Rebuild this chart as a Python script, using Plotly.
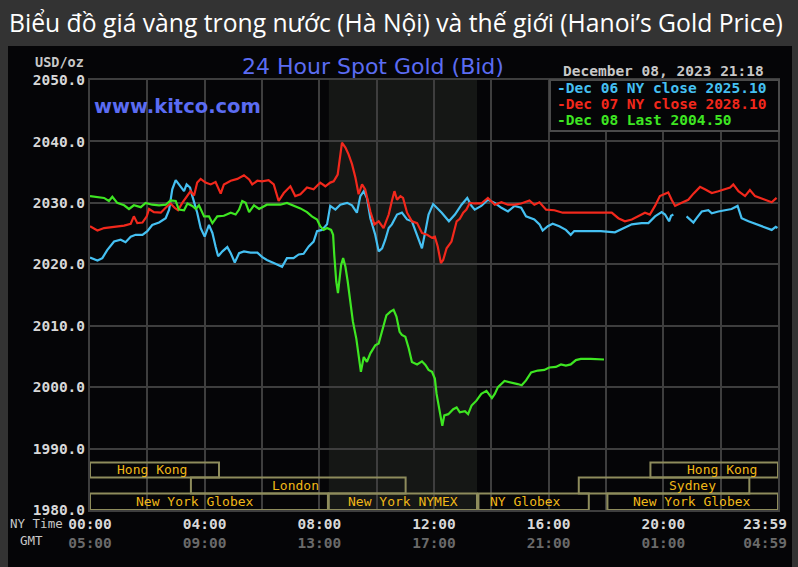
import plotly.graph_objects as go

# ---------------- DATA ----------------
# NY time in hours, prices in USD/oz
t_dec06 = [0.00, 0.26, 0.43, 0.60, 0.84, 1.07, 1.24, 1.42, 1.59, 1.83,
           2.00, 2.17, 2.41, 2.64, 2.76, 2.87, 2.99, 3.14, 3.28, 3.37,
           3.49, 3.57, 3.74, 3.86, 4.00, 4.15, 4.27, 4.38, 4.47, 4.62,
           4.79, 4.91, 5.05, 5.20, 5.37, 5.60, 5.84,
           6.00, 6.17, 6.41, 6.70, 6.87, 7.10, 7.28, 7.45, 7.63, 7.80,
           7.92, 8.09, 8.27, 8.38, 8.56, 8.73, 8.97, 9.14, 9.31, 9.43,
           9.55, 9.66, 9.78, 9.95, 10.07, 10.19, 10.30, 10.42, 10.53, 10.71,
           10.88, 11.06, 11.23, 11.41, 11.58, 11.70, 11.81, 11.97,
           12.27, 12.52, 12.73, 12.96, 13.16, 13.31, 13.42, 13.65, 13.88, 14.12,
           14.35, 14.58, 14.81, 15.04, 15.21, 15.50, 15.68, 15.79, 15.97, 16.14,
           16.37, 16.60, 16.77, 16.89, 17.35, 17.82,
           18.31, 18.66, 18.90, 19.24, 19.48, 19.71, 19.94, 20.06, 20.20, 20.27,
           20.35, 20.55, 20.81, 20.93, 21.05, 21.16, 21.34, 21.57, 21.69, 21.92,
           22.15, 22.38, 22.59, 22.73, 22.97, 23.20, 23.43, 23.66, 23.78, 23.92, 23.98]
p_dec06 = [2021.1, 2020.6, 2021.0, 2022.3, 2023.7, 2024.0, 2023.6, 2024.5, 2024.8, 2024.8,
           2025.4, 2026.4, 2026.8, 2027.5, 2028.9, 2032.2, 2033.7, 2032.7, 2031.9, 2033.0,
           2032.5, 2031.1, 2028.4, 2025.9, 2024.5, 2026.4, 2025.1, 2022.9, 2021.3, 2022.1,
           2022.8, 2021.8, 2020.3, 2021.8, 2022.1, 2021.9, 2021.9,
           2021.2, 2020.7, 2020.2, 2019.6, 2021.0, 2021.0, 2021.6, 2021.7, 2022.9, 2023.7,
           2025.4, 2025.6, 2026.5, 2029.5, 2028.9, 2029.7, 2030.0, 2029.6, 2028.4, 2031.1,
           2031.9, 2030.8, 2027.5, 2024.8, 2022.1, 2022.6, 2024.0, 2025.9, 2026.5, 2028.1,
           2028.4, 2027.3, 2027.0, 2024.6, 2022.6, 2025.4, 2028.1, 2029.8,
           2028.4, 2027.0, 2028.1, 2029.7, 2030.8, 2029.5, 2028.9, 2029.5, 2030.5, 2030.0,
           2029.2, 2028.6, 2029.5, 2029.2, 2027.8, 2027.3, 2026.5, 2025.5, 2026.2, 2026.6,
           2026.2, 2025.6, 2024.8, 2025.4, 2025.4, 2025.4,
           2025.2, 2025.9, 2026.5, 2026.7, 2026.7, 2027.8, 2028.5, 2028.1, 2027.0, 2027.9,
           2028.1, None, 2027.8, 2027.3, 2026.8, 2027.5, 2028.6, 2028.8, 2028.3, 2028.6,
           2028.8, 2029.0, 2029.5, 2027.5, 2027.0, 2026.6, 2026.3, 2025.9, 2025.6, 2026.1, 2025.9]

t_dec07 = [0.00, 0.26, 0.49, 0.84, 1.19, 1.42, 1.53, 1.65, 1.83, 1.98,
           2.06, 2.23, 2.47, 2.64, 2.81, 2.95, 3.07, 3.22, 3.40, 3.51,
           3.63, 3.74, 3.86, 4.03, 4.21, 4.38, 4.56, 4.67, 4.91, 5.14,
           5.37, 5.55, 5.66, 5.84,
           6.00, 6.23, 6.41, 6.58, 6.76, 6.99, 7.16, 7.34, 7.57, 7.80,
           8.03, 8.21, 8.38, 8.50, 8.64, 8.73, 8.79, 8.91, 9.02, 9.14,
           9.26, 9.37, 9.49, 9.60, 9.69, 9.78, 9.92, 10.07, 10.24, 10.42,
           10.53, 10.62, 10.71, 10.83, 10.92, 11.06, 11.23, 11.41, 11.58, 11.76, 11.93,
           12.03, 12.13, 12.24, 12.32, 12.44, 12.61, 12.79, 12.90, 13.02, 13.13,
           13.25, 13.42, 13.65, 13.88, 14.12, 14.35, 14.58, 14.81, 15.04, 15.33,
           15.50, 15.68, 15.91, 16.20, 16.49, 16.89, 17.35, 17.82,
           18.20, 18.43, 18.66, 18.90, 19.13, 19.36, 19.53, 19.71, 19.88, 20.06,
           20.17, 20.29, 20.41, 20.64, 20.87, 21.05, 21.28, 21.45, 21.69, 21.92,
           22.15, 22.33, 22.44, 22.62, 22.85, 23.02, 23.20, 23.43, 23.66, 23.78, 23.95]
p_dec07 = [2026.2, 2025.5, 2025.9, 2026.1, 2026.3, 2026.6, 2027.8, 2026.7, 2026.8, 2027.8,
           2029.0, 2028.5, 2028.4, 2029.2, 2029.9, 2029.2, 2028.8, 2030.0, 2031.2, 2031.9,
           2031.2, 2033.3, 2033.9, 2033.3, 2033.0, 2033.4, 2031.5, 2033.0, 2033.6, 2033.9,
           2034.5, 2033.8, 2033.0, 2033.6,
           2033.5, 2033.7, 2033.0, 2030.3, 2031.6, 2032.7, 2031.1, 2031.4, 2032.5, 2032.2,
           2033.3, 2032.7, 2033.3, 2033.5, 2034.6, 2037.9, 2039.8, 2039.0, 2037.9, 2036.3,
           2034.1, 2031.4, 2033.0, 2032.2, 2030.5, 2028.6, 2026.5, 2027.0, 2025.9, 2028.1,
           2030.3, 2031.9, 2030.5, 2031.1, 2030.8, 2028.4, 2027.0, 2026.7, 2025.1, 2024.8, 2024.3,
           2024.5, 2022.9, 2020.2, 2020.7, 2022.6, 2023.7, 2027.0, 2027.4, 2028.4, 2028.9,
           2030.0, 2029.9, 2029.9, 2030.8, 2029.7, 2030.1, 2029.7, 2029.7, 2029.9, 2030.4,
           2029.7, 2030.1, 2028.9, 2028.8, 2028.4, 2028.4, 2028.4, 2028.4,
           2028.4, 2027.5, 2027.0, 2027.3, 2027.9, 2028.4, 2028.1, 2029.5, 2031.1, 2031.4,
           2031.7, 2030.5, 2029.5, 2030.0, 2030.5, 2031.5, 2032.6, 2032.2, 2031.6, 2031.9,
           2032.2, 2032.5, 2033.0, 2031.9, 2031.1, 2032.1, 2031.1, 2030.7, 2030.4, 2030.1, 2030.8]

t_dec08 = [0.00, 0.26, 0.49, 0.66, 0.78, 0.95, 1.19, 1.36, 1.53, 1.77,
           1.94, 2.17, 2.41, 2.64, 2.81, 2.99, 3.10, 3.28, 3.40, 3.57,
           3.69, 3.80, 3.98, 4.15, 4.27, 4.44, 4.67, 4.91, 5.08, 5.20,
           5.31, 5.43, 5.55, 5.72, 5.90,
           6.17, 6.41, 6.64, 6.87, 7.10, 7.34, 7.57, 7.74, 7.92, 8.03,
           8.15, 8.27, 8.41, 8.48, 8.52, 8.59, 8.65, 8.71, 8.76, 8.83,
           8.91, 8.99, 9.08, 9.17, 9.29, 9.37, 9.45, 9.55, 9.66, 9.78,
           9.95, 10.07, 10.19, 10.34, 10.48, 10.59, 10.69, 10.80, 10.88, 11.00,
           11.12, 11.23, 11.41, 11.58, 11.70, 11.81, 11.93,
           12.03, 12.09, 12.17, 12.24, 12.29, 12.36, 12.50, 12.67, 12.79, 12.90,
           13.08, 13.19, 13.31, 13.48, 13.65, 13.83, 13.94, 14.02, 14.12, 14.23,
           14.46, 14.69, 14.92, 15.06, 15.21, 15.39, 15.62, 15.85, 16.02, 16.25,
           16.43, 16.60, 16.77, 16.95, 17.12, 17.47, 17.93]
p_dec08 = [2031.1, 2031.0, 2030.8, 2030.3, 2031.0, 2030.0, 2029.6, 2029.0, 2029.6, 2029.3,
           2030.0, 2029.7, 2029.6, 2029.7, 2030.4, 2030.3, 2028.9, 2028.8, 2029.9, 2029.5,
           2029.0, 2029.6, 2027.8, 2027.8, 2026.7, 2027.8, 2027.9, 2028.4, 2028.1, 2028.9,
           2030.3, 2030.0, 2028.5, 2029.6, 2029.0,
           2029.7, 2029.7, 2029.7, 2030.0, 2029.6, 2029.1, 2028.5, 2027.8, 2027.3, 2026.2,
           2025.6, 2025.9, 2025.6, 2024.8, 2021.6, 2017.2, 2015.3, 2018.3, 2019.9, 2021.0,
           2019.6, 2017.2, 2013.4, 2010.7, 2007.9, 2005.2, 2002.5, 2004.9, 2004.1, 2005.5,
           2006.8, 2007.1, 2009.0, 2011.7, 2012.3, 2012.6, 2011.5, 2009.0, 2008.5, 2008.2,
           2006.3, 2004.1, 2003.7, 2004.2, 2003.6, 2002.8, 2002.5,
           2001.4, 1998.9, 1996.7, 1994.5, 1993.7, 1995.4, 1995.6, 1996.4, 1996.7, 1995.9,
           1996.1, 1995.6, 1997.0, 1997.8, 1998.9, 1999.4, 1998.6, 1998.2, 1998.9, 2000.0,
           2001.0, 2000.8, 2000.5, 2000.3, 2001.1, 2002.4, 2002.7, 2002.8, 2003.2, 2003.3,
           2003.7, 2003.5, 2003.7, 2004.4, 2004.6, 2004.6, 2004.5]

series_names = ["Dec 06 NY close 2025.10", "Dec 07 NY close 2028.10", "Dec 08 Last 2004.50"]
series_colors = ["#45c0f2", "#f2281c", "#3ee622"]

y_tick_vals = [1980, 1990, 2000, 2010, 2020, 2030, 2040, 2050]
x_label_vals = [0, 4, 8, 12, 16, 20, 23.55]
x_tick_ny = ["00:00", "04:00", "08:00", "12:00", "16:00", "20:00", "23:59"]
x_tick_gmt = ["05:00", "09:00", "13:00", "17:00", "21:00", "01:00", "04:59"]
x_grid_vals = [2, 4, 6, 8, 10, 12, 14, 16, 18, 20, 22]

# Market sessions: name, start hour, end hour, row (1 top .. 3 bottom), label position hour
sess_names = ["Hong Kong", "London", "New York Globex", "New York NYMEX", "NY Globex",
              "Sydney", "Hong Kong", "New York Globex"]
sess_start = [0.0, 3.52, 0.0, 8.33, 13.55, 17.05, 19.55, 18.05]
sess_end = [4.5, 11.01, 8.30, 13.50, 17.40, 23.0, 24.0, 24.0]
sess_row = [1, 2, 3, 3, 3, 2, 1, 3]
sess_label_t = [2.15, 7.18, 3.66, 10.92, 15.2, 21.0, 22.04, 21.0]
nymex_session = [8.33, 13.5]

# ---------------- LAYOUT HELPERS ----------------
W, H = 798, 567
PL, PR, PT, PB = 90, 778, 80, 510   # plot area in pixels
Y_MIN, Y_MAX = 1980, 2050
X_MAX = 24.0


def px(xp):
    return (xp - PL) / (PR - PL)


def py(yp):
    return (PB - yp) / (PB - PT)


MONO = "DejaVu Sans Mono"
MS = 14.5
GRID = "#3e3e3e"
row_bounds = {1: (1985.3, 1987.75), 2: (1982.7, 1985.3), 3: (1980.0, 1982.7)}

fig = go.Figure()
for t, p, c in zip([t_dec06, t_dec07, t_dec08], [p_dec06, p_dec07, p_dec08], series_colors):
    fig.add_trace(go.Scatter(x=t, y=p, mode="lines", line=dict(color=c, width=2.2),
                             connectgaps=False, showlegend=False, hoverinfo="skip"))

shapes = []
# black panel
shapes.append(dict(type="rect", xref="paper", yref="paper", x0=px(8), x1=px(792),
                   y0=py(567), y1=py(46), fillcolor="#050507", line=dict(width=0), layer="below"))
# NYMEX shading
shapes.append(dict(type="rect", xref="x", yref="y", x0=nymex_session[0], x1=nymex_session[1],
                   y0=Y_MIN, y1=Y_MAX, fillcolor="#151715", line=dict(width=0), layer="below"))
# session boxes
for s, e, r in zip(sess_start, sess_end, sess_row):
    y0, y1 = row_bounds[r]
    shapes.append(dict(type="rect", xref="x", yref="y", x0=s, x1=e, y0=y0, y1=y1,
                       fillcolor="rgba(0,0,0,0)", line=dict(color="#8e8c5c", width=2), layer="above"))
# legend box
shapes.append(dict(type="rect", xref="paper", yref="paper", x0=px(550), x1=px(779),
                   y0=py(131), y1=py(80), fillcolor="#050507",
                   line=dict(color="#4a4a4a", width=2), layer="above"))

ann = []
ann.append(dict(text="Biểu đồ giá vàng trong nước (Hà Nội) và thế giới (Hanoi’s Gold Price)",
                xref="paper", yref="paper", x=px(7), y=py(22), xanchor="left", yanchor="middle",
                showarrow=False, font=dict(family="Open Sans", size=24.7, color="#ffffff")))
ann.append(dict(text="24 Hour Spot Gold (Bid)", xref="paper", yref="paper", x=px(373), y=py(66),
                xanchor="center", yanchor="middle", showarrow=False,
                font=dict(family="DejaVu Sans", size=22, color="#5b6cf2")))
ann.append(dict(text="<b>www.kitco.com</b>", xref="paper", yref="paper", x=px(92), y=py(106),
                xanchor="left", yanchor="middle", showarrow=False,
                font=dict(family="DejaVu Sans", size=19.5, color="#5b6cf2")))
ann.append(dict(text="<b>USD/oz</b>", xref="paper", yref="paper", x=px(86), y=py(62),
                xanchor="right", yanchor="middle", showarrow=False,
                font=dict(family=MONO, size=13.5, color="#c8c8c8")))
ann.append(dict(text="<b>December 08, 2023 21:18</b>", xref="paper", yref="paper", x=px(766), y=py(71),
                xanchor="right", yanchor="middle", showarrow=False,
                font=dict(family=MONO, size=MS, color="#c8c8c8")))
for i, (nm, c) in enumerate(zip(series_names, series_colors)):
    ann.append(dict(text="<b>-" + nm + "</b>", xref="paper", yref="paper", x=px(555), y=py(88.5 + 15.5 * i),
                    xanchor="left", yanchor="middle", showarrow=False,
                    font=dict(family=MONO, size=MS, color=c)))
ann.append(dict(text="NY Time", xref="paper", yref="paper", x=px(65), y=py(523),
                xanchor="right", yanchor="middle", showarrow=False,
                font=dict(family=MONO, size=12.5, color="#c8c8c8")))
ann.append(dict(text="GMT", xref="paper", yref="paper", x=px(45), y=py(540),
                xanchor="right", yanchor="middle", showarrow=False,
                font=dict(family=MONO, size=12.5, color="#c8c8c8")))
for nm, lt, r in zip(sess_names, sess_label_t, sess_row):
    y0, y1 = row_bounds[r]
    ann.append(dict(text=nm, xref="x", yref="y", x=lt, y=(y0 + y1) / 2,
                    xanchor="center", yanchor="middle", showarrow=False,
                    font=dict(family=MONO, size=13, color="#f0b818")))

ticktext = ["<b>%s</b><br><b><span style='color:#6a6a6a'>%s</span></b>" % (a, b)
            for a, b in zip(x_tick_ny, x_tick_gmt)]

fig.update_layout(
    width=W, height=H,
    margin=dict(l=PL, r=W - PR, t=PT, b=H - PB),
    paper_bgcolor="#333333", plot_bgcolor="#050507",
    shapes=shapes, annotations=ann,
    xaxis=dict(range=[0, X_MAX], tickmode="array", tickvals=x_label_vals, ticktext=ticktext,
               showgrid=False, zeroline=False, ticklabeloverflow="allow",
               showline=True, linecolor=GRID, linewidth=2, mirror=True,
               ticks="", tickfont=dict(family=MONO, size=MS, color="#d8d8d8"),
               minor=dict(tickmode="array", tickvals=x_grid_vals, showgrid=True,
                          gridcolor=GRID, gridwidth=2, ticks="")),
    yaxis=dict(range=[Y_MIN, Y_MAX], tickmode="array", tickvals=y_tick_vals,
               ticktext=["<b>%.1f</b>" % v for v in y_tick_vals],
               showgrid=True, gridcolor=GRID, gridwidth=2, zeroline=False,
               showline=True, linecolor=GRID, linewidth=2, mirror=True,
               ticks="", tickfont=dict(family=MONO, size=MS, color="#d8d8d8")),
)

fig.write_html("out.html", config={"displayModeBar": False, "staticPlot": True},
               post_script="document.body.style.margin='0';document.body.style.background='#333333';")
